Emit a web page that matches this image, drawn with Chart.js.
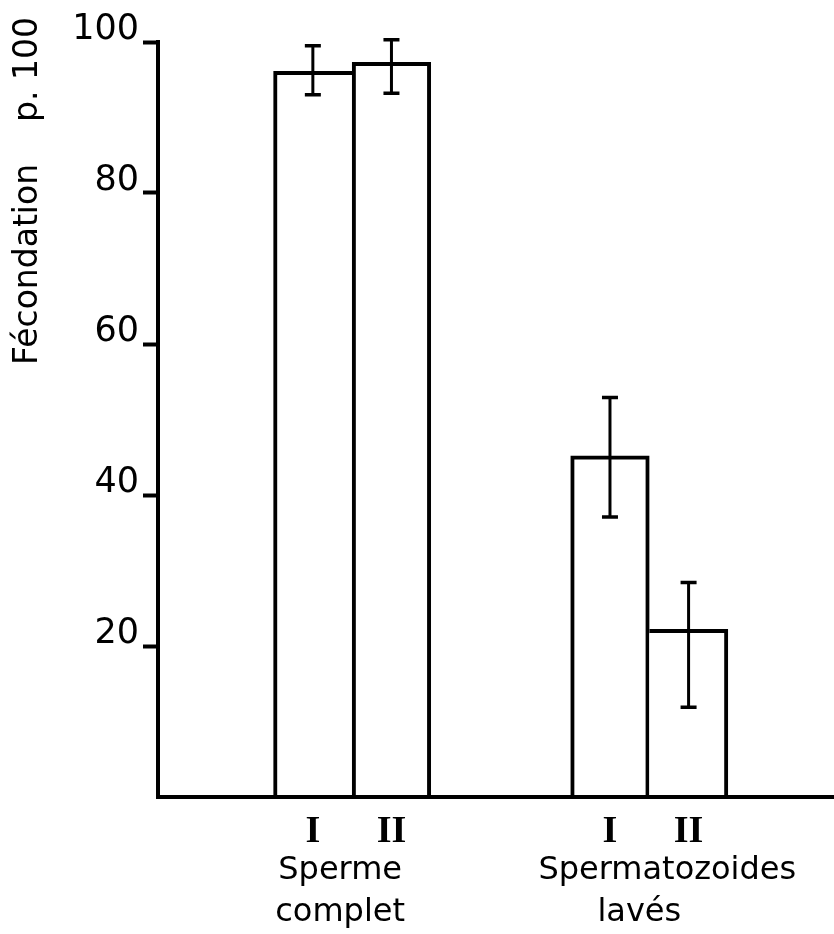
<!DOCTYPE html>
<html>
<head>
<meta charset="utf-8">
<script src="https://cdn.jsdelivr.net/npm/chart.js@4.4.0/dist/chart.umd.min.js"></script>
<style>
  html, body { margin: 0; padding: 0; background: #fff; }
  canvas { display: block; }
</style>
</head>
<body>
<canvas id="fecondation" width="834" height="934"></canvas>
<script>
// Fécondation (p. 100) : sperme complet vs spermatozoides lavés, essais I et II
const barLabels = ['I', 'II', 'I', 'II'];
const barPositions = [1.97, 2.97, 5.75, 6.75];
const fecondation = [96.1, 97.3, 45.2, 22.2];
const errHigh = [99.5, 100.3, 52.9, 28.4];
const errLow = [93.0, 93.2, 37.1, 11.9];
const groupLabels = [['Sperme', 'complet'], ['Spermatozoides', 'lavés']];
const groupBars = [[0, 1], [2, 3]];
const yTicks = [20, 40, 60, 80, 100];
const yTitle = 'Fécondation    p. 100';

// error bars + rotated title + group names under the axis
const extrasPlugin = {
  id: 'extras',
  afterDatasetsDraw(chart) {
    const ctx = chart.ctx;
    const xs = chart.scales.x, ys = chart.scales.y;
    ctx.save();
    ctx.strokeStyle = '#000';
    barPositions.forEach((p, i) => {
      const x = xs.getPixelForValue(p);
      const yTop = ys.getPixelForValue(errHigh[i]);
      const yBot = ys.getPixelForValue(errLow[i]);
      ctx.lineWidth = 3;
      ctx.beginPath();
      ctx.moveTo(x, yTop);
      ctx.lineTo(x, yBot);
      ctx.stroke();
      ctx.lineWidth = 3.5;
      ctx.beginPath();
      ctx.moveTo(x - 8, yTop); ctx.lineTo(x + 8, yTop);
      ctx.moveTo(x - 8, yBot); ctx.lineTo(x + 8, yBot);
      ctx.stroke();
    });
    ctx.restore();
  },
  afterDraw(chart) {
    const ctx = chart.ctx;
    const xs = chart.scales.x;
    ctx.save();
    ctx.fillStyle = '#000';

    // y title, rotated
    ctx.save();
    ctx.translate(28, 17);
    ctx.rotate(-Math.PI / 2);
    ctx.font = '33px "DejaVu Sans"';
    ctx.textAlign = 'right';
    ctx.textBaseline = 'middle';
    ctx.fillText(yTitle, 0, 0);
    ctx.restore();

    // group names
    const shifts = [[-12, -12], [18, -10]];
    const baselines = [879, 921];
    ctx.font = '32px "DejaVu Sans"';
    ctx.textAlign = 'center';
    ctx.textBaseline = 'alphabetic';
    groupLabels.forEach((lines, g) => {
      const [a, b] = groupBars[g];
      const cx = (xs.getPixelForValue(barPositions[a]) + xs.getPixelForValue(barPositions[b])) / 2;
      lines.forEach((txt, k) => {
        ctx.fillText(txt, cx + shifts[g][k], baselines[k]);
      });
    });
    ctx.restore();
  }
};

new Chart(document.getElementById('fecondation'), {
  type: 'bar',
  data: {
    datasets: [{
      data: barPositions.map((x, i) => ({ x: x, y: fecondation[i] })),
      backgroundColor: '#fff',
      borderColor: '#000',
      borderWidth: (c) => [
        { top: 4, left: 4, right: 0, bottom: 0 },
        { top: 4, left: 4, right: 4, bottom: 0 },
        { top: 4, left: 4, right: 4, bottom: 0 },
        { top: 4, left: 0, right: 4, bottom: 0 }
      ][c.dataIndex],
      borderSkipped: 'start',
      barPercentage: 1,
      categoryPercentage: 1
    }]
  },
  options: {
    responsive: false,
    animation: false,
    layout: { padding: { top: 42, left: 0, right: 0, bottom: 0 } },
    plugins: {
      legend: { display: false },
      tooltip: { enabled: false }
    },
    scales: {
      x: {
        type: 'linear',
        min: 0,
        max: 8.6,
        offset: false,
        grid: { display: false },
        border: { display: true, color: '#000', width: 4, z: 1 },
        afterBuildTicks: (s) => { s.ticks = barPositions.map(v => ({ value: v })); },
        afterFit: (s) => { s.height = 137; s.paddingLeft = 0; s.paddingRight = 0; },
        ticks: {
          autoSkip: false,
          maxRotation: 0,
          padding: 4,
          color: '#000',
          font: { family: 'Liberation Serif', size: 38, weight: 'bold' },
          callback: (v, i) => barLabels[i]
        }
      },
      y: {
        min: 0,
        max: 100,
        afterBuildTicks: (s) => { s.ticks = yTicks.map(v => ({ value: v })); },
        afterFit: (s) => { s.width = 158; s.paddingTop = 0; s.paddingBottom = 0; },
        grid: { drawOnChartArea: false, drawTicks: true, tickLength: 15, tickWidth: 4, tickColor: '#000' },
        border: { display: true, color: '#000', width: 4, z: 1 },
        ticks: {
          color: '#000',
          padding: 4,
          labelOffset: -12,
          font: { family: 'DejaVu Sans', size: 35 }
        }
      }
    }
  },
  plugins: [extrasPlugin]
});
</script>
</body>
</html>
